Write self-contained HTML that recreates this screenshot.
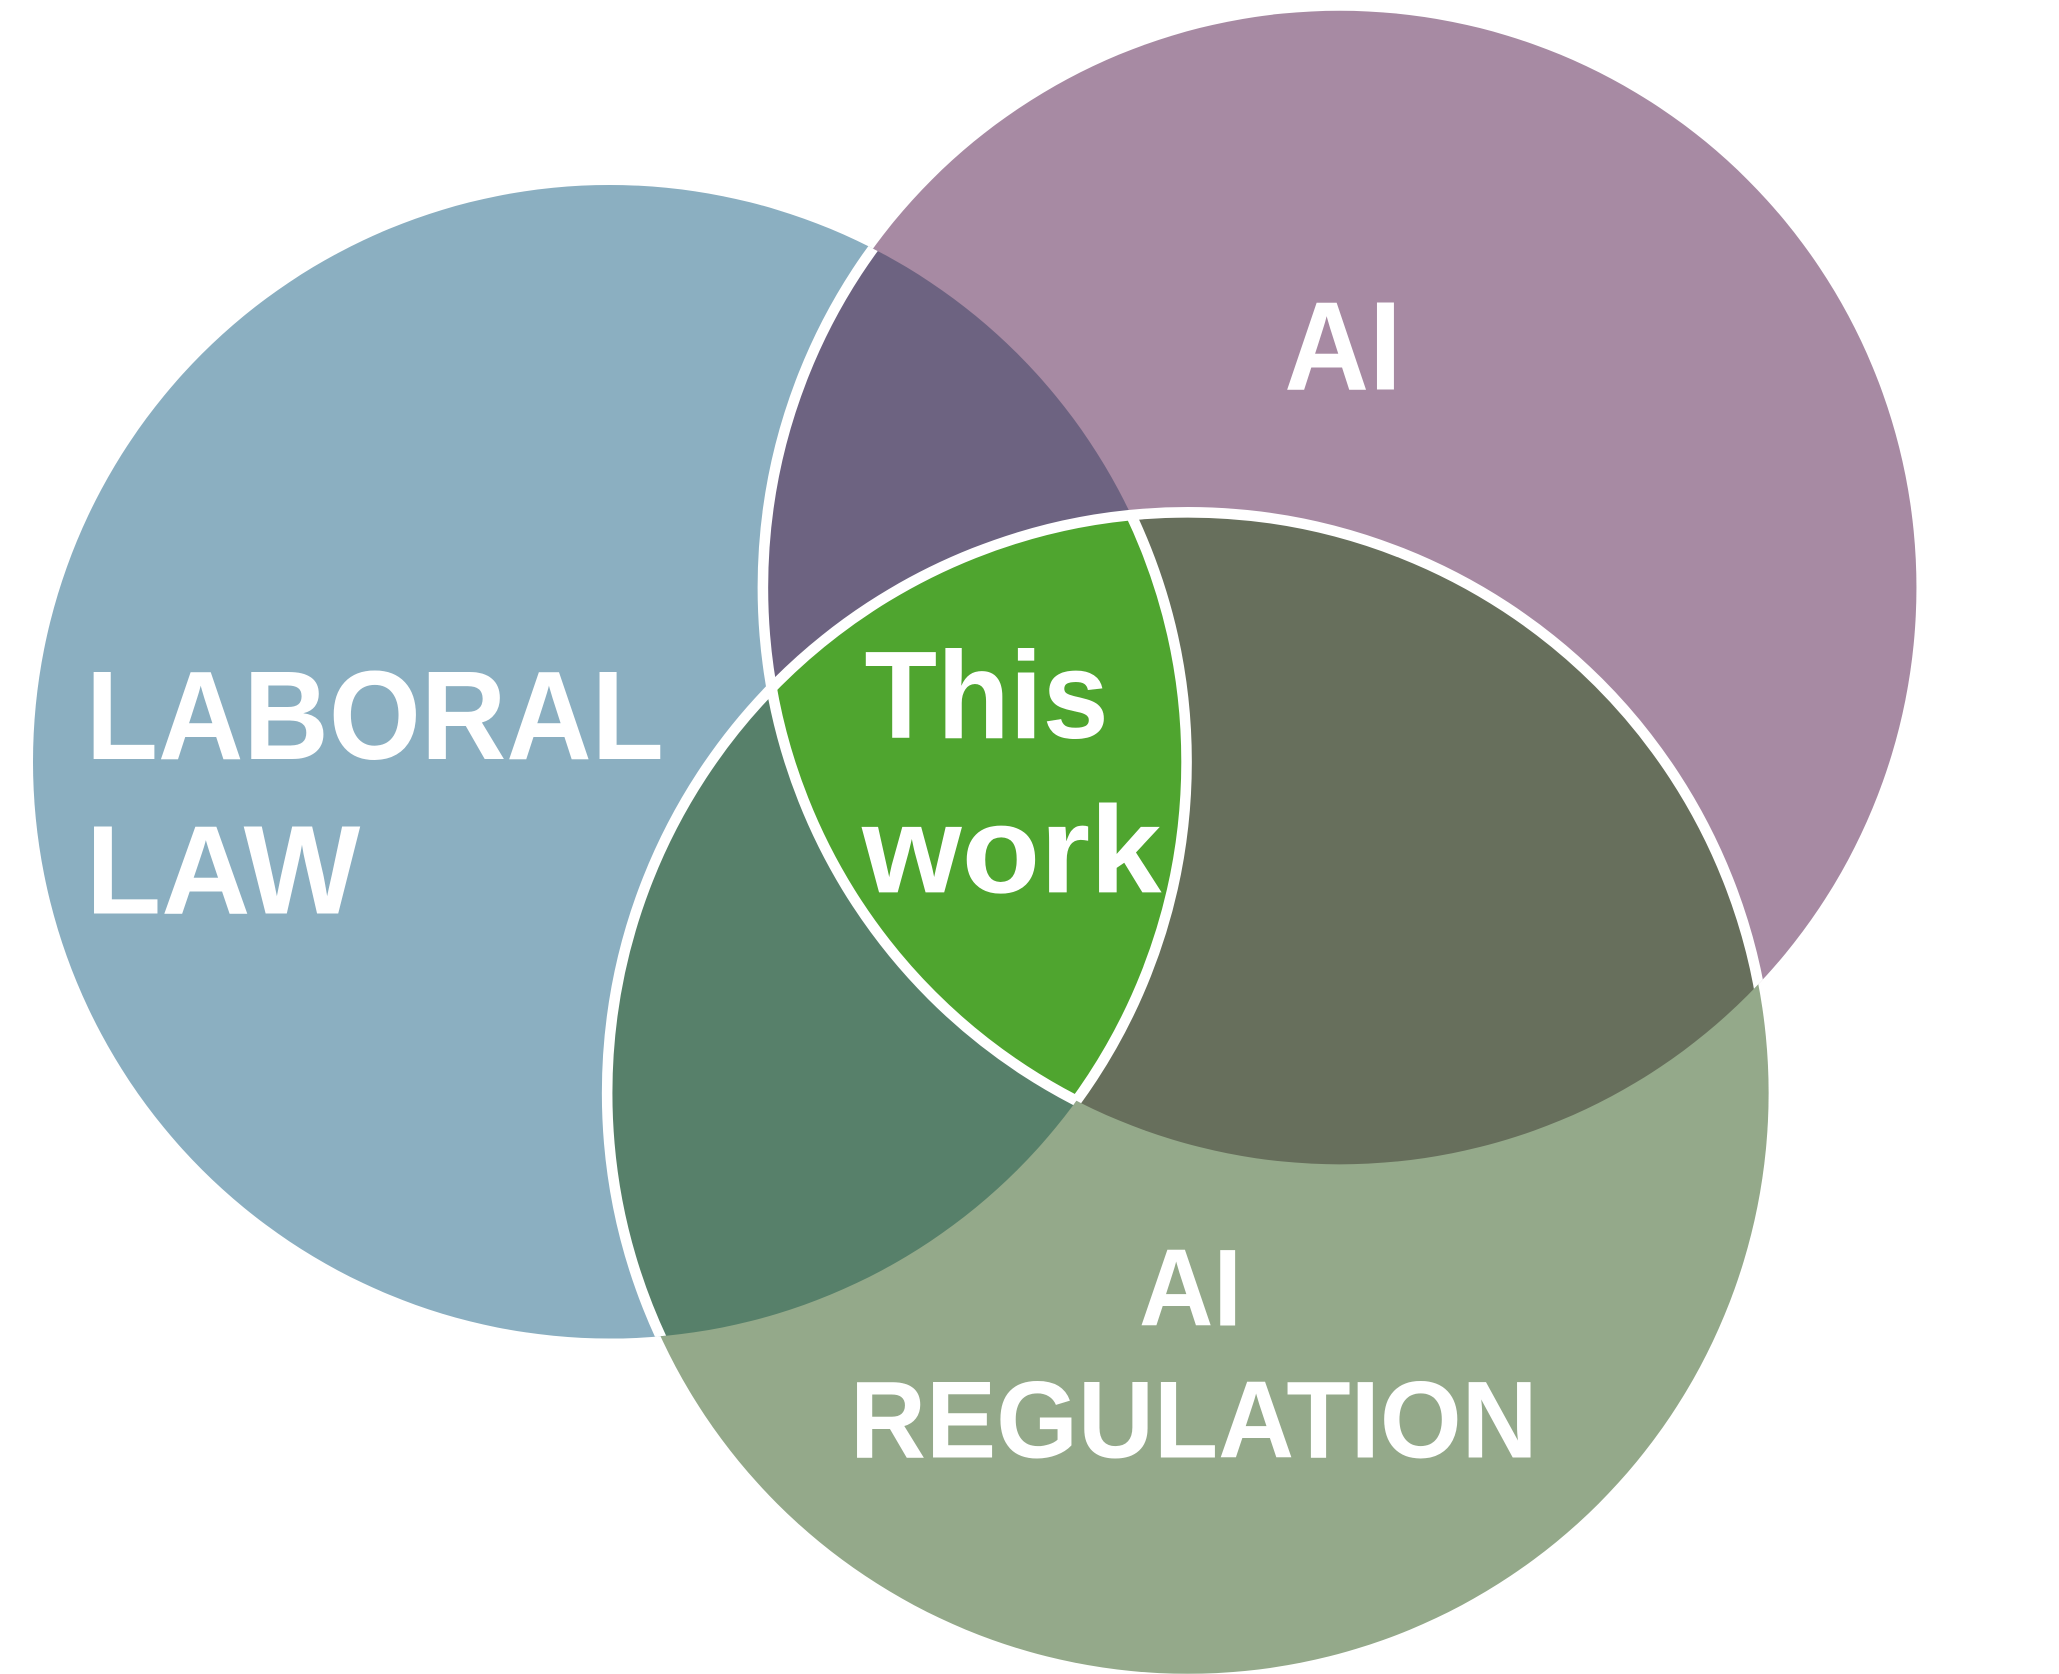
<!DOCTYPE html>
<html><head><meta charset="utf-8"><style>html,body{margin:0;padding:0;background:#fff}svg{display:block}</style></head>
<body>
<svg width="2059" height="1674" viewBox="0 0 1560 1268" xmlns="http://www.w3.org/2000/svg">
<defs>
<clipPath id="cB"><circle cx="462" cy="577" r="437"/></clipPath>
<clipPath id="cP"><circle cx="1015" cy="445" r="437"/></clipPath>
<clipPath id="cG"><circle cx="900" cy="828" r="440"/></clipPath>
<clipPath id="cBP"><circle cx="462" cy="577" r="437"/><circle cx="1015" cy="445" r="437"/></clipPath>
</defs>
<rect width="1560" height="1268" fill="#fff"/>
<circle cx="462" cy="577" r="437" fill="#8BAFC1"/>
<circle cx="1015" cy="445" r="437" fill="#A78AA3"/>
<circle cx="900" cy="828" r="440" fill="#94A98A"/>
<circle cx="1015" cy="445" r="437" fill="#6D6381" clip-path="url(#cB)"/>
<circle cx="900" cy="828" r="440" fill="#676F5C" clip-path="url(#cP)"/>
<circle cx="900" cy="828" r="440" fill="#57806A" clip-path="url(#cB)"/>
<g clip-path="url(#cB)"><g clip-path="url(#cP)"><circle cx="900" cy="828" r="440" fill="#4FA52F"/></g></g>
<circle cx="1015" cy="445" r="437" fill="none" stroke="#fff" stroke-width="8" clip-path="url(#cB)"/>
<circle cx="900" cy="828" r="440" fill="none" stroke="#fff" stroke-width="8" clip-path="url(#cBP)"/>
<g clip-path="url(#cP)"><circle cx="462" cy="577" r="437" fill="none" stroke="#fff" stroke-width="8" clip-path="url(#cG)"/></g>
<g font-family="Liberation Sans, sans-serif" font-weight="bold" fill="#fff">
<text x="65" y="575" font-size="96" textLength="438" lengthAdjust="spacingAndGlyphs">LABORAL</text>
<text x="65" y="692" font-size="96" textLength="208" lengthAdjust="spacingAndGlyphs">LAW</text>
<text x="973" y="295" font-size="96" textLength="89" lengthAdjust="spacingAndGlyphs">AI</text>
<text x="863" y="1004" font-size="83" textLength="78" lengthAdjust="spacingAndGlyphs">AI</text>
<text x="644" y="1104" font-size="83" textLength="521" lengthAdjust="spacingAndGlyphs">REGULATION</text>
<text x="655" y="559" font-size="94" textLength="185" lengthAdjust="spacingAndGlyphs">This</text>
<text x="653" y="676" font-size="94" textLength="227" lengthAdjust="spacingAndGlyphs">work</text>
</g>
</svg>
</body></html>
